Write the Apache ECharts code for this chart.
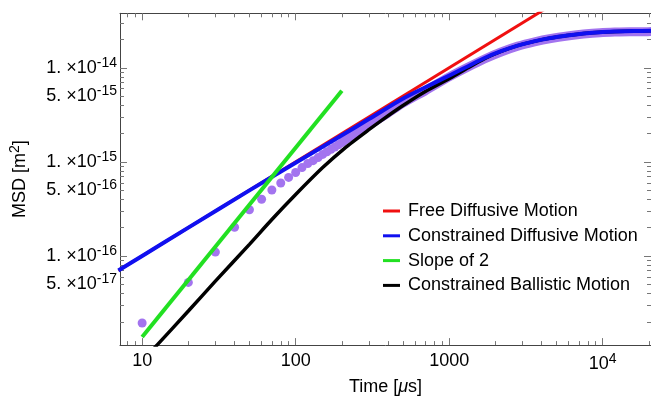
<!DOCTYPE html>
<html><head><meta charset="utf-8">
<script src="https://cdn.jsdelivr.net/npm/echarts@6/dist/echarts.min.js"></script>
<style>html,body{margin:0;padding:0;background:#fff}#c{width:651px;height:401px}</style>
</head><body><div id="c"></div>
<script>
// ---- tick labels ----
const xTickValues = [10, 100, 1000, 10000];
const xTickLabels = ['10', '100', '1000', '10^4'];
const xMinorTicks = [8, 9, 20, 30, 40, 50, 60, 70, 80, 90, 200, 300, 400, 500, 600, 700, 800, 900,
  2000, 3000, 4000, 5000, 6000, 7000, 8000, 9000, 20000];
const yTickValues = [5e-17, 1e-16, 5e-16, 1e-15, 5e-15, 1e-14];
const yTickLabels = ['5. ×10^-17', '1. ×10^-16', '5. ×10^-16', '1. ×10^-15', '5. ×10^-15', '1. ×10^-14'];
const yMajorTicks = [1e-16, 1e-15, 1e-14];
const yMinorTicks = [2e-17, 3e-17, 4e-17, 5e-17, 6e-17, 7e-17, 8e-17, 9e-17,
  2e-16, 3e-16, 4e-16, 5e-16, 6e-16, 7e-16, 8e-16, 9e-16,
  2e-15, 3e-15, 4e-15, 5e-15, 6e-15, 7e-15, 8e-15, 9e-15, 2e-14, 3e-14];

// ---- measured data (purple dots) ----
const dotTime = [10, 20, 30, 40, 50, 60, 70, 80, 90, 100, 110, 120, 130, 140, 150, 160, 170, 180, 190, 200];
const dotMSD = [1.94e-17, 5.24e-17, 1.10e-16, 2.02e-16, 3.10e-16, 4.01e-16, 5.02e-16, 5.96e-16, 6.84e-16, 7.71e-16,
  8.7e-16, 9.6e-16, 1.03e-15, 1.11e-15, 1.20e-15, 1.28e-15, 1.36e-15, 1.44e-15, 1.52e-15, 1.60e-15];
// dense measured band (overlapping dots)
const bandTime = [200, 250, 300, 400, 500, 700, 1000, 1300, 1700, 2200, 2800, 3600, 4600, 5900, 7500, 9600, 12000, 15000, 18000, 21000];
const bandMSD = [1.62e-15, 2.05e-15, 2.45e-15, 3.3e-15, 4.2e-15, 5.7e-15, 8.0e-15, 1.0e-14, 1.24e-14, 1.48e-14,
  1.70e-14, 1.89e-14, 2.05e-14, 2.18e-14, 2.28e-14, 2.36e-14, 2.40e-14, 2.42e-14, 2.41e-14, 2.43e-14];

// ---- model curves ----
const freeTime = [7, 4200];
const freeMSD = [7.0e-17, 4.2e-14];

const conDiffTime = [7, 10, 20, 50, 100, 150, 200, 300, 492, 700, 1035, 1327, 1700, 2177, 2790, 3575, 4580, 5870, 7530, 9640, 12350, 16000, 21000];
const conDiffMSD = [7.0e-17, 1.0e-16, 2.0e-16, 4.98e-16, 9.8e-16, 1.45e-15, 1.92e-15, 2.85e-15, 4.63e-15, 6.2e-15, 8.5e-15,
  1.04e-14, 1.27e-14, 1.50e-14, 1.72e-14, 1.91e-14, 2.07e-14, 2.20e-14, 2.31e-14, 2.39e-14, 2.43e-14, 2.46e-14, 2.47e-14];

const slope2Time = [10, 200];
const slope2MSD = [1.38e-17, 5.7e-15];

const ballTime = [12, 12.5, 20, 30, 50, 70, 100, 150, 211, 300, 365, 492, 700, 1035, 1327, 1700, 2177, 2790, 3575, 4580, 5870, 7530, 9640, 12350, 16000, 21000];
const ballMSD = [1.05e-17, 1.13e-17, 2.6e-17, 5.4e-17, 1.33e-16, 2.44e-16, 4.5e-16, 8.7e-16, 1.42e-15, 2.2e-15, 2.78e-15, 3.9e-15, 5.6e-15, 7.9e-15,
  1.0e-14, 1.25e-14, 1.49e-14, 1.72e-14, 1.91e-14, 2.07e-14, 2.20e-14, 2.31e-14, 2.39e-14, 2.43e-14, 2.46e-14, 2.47e-14];

const names = ['Free Diffusive Motion', 'Constrained Diffusive Motion', 'Slope of 2', 'Constrained Ballistic Motion'];

const L = Math.log10;
const pairs = (ts, ms) => ts.map((t, i) => [L(t), L(ms[i])]);
const FONT = 'Liberation Sans, Arial, sans-serif';
const rich = {
  n: { fontSize: 18, fontFamily: FONT, color: '#000' },
  s: { fontSize: 14, fontFamily: FONT, color: '#000', padding: [0, 0, 10, 0] },
  i: { fontSize: 18, fontFamily: FONT, color: '#000', fontStyle: 'italic' }
};
const toRich = str => {
  const p = str.split('^');
  return p.length > 1 ? '{n|' + p[0] + '}{s|' + p[1] + '}' : '{n|' + p[0] + '}';
};
const labelFor = (vals, labs) => v => {
  const i = vals.findIndex(t => Math.abs(L(t) - v) < 1e-6);
  return i >= 0 ? toRich(labs[i]) : '';
};

const X_MIN = 0.8558, X_MAX = 4.3148, Y_MIN = -16.947, Y_MAX = -13.421;
const AX = '#444', TK = '#777';

function xAx(pos, vals, len, labels, line) {
  return {
    type: 'value', min: X_MIN, max: X_MAX, position: pos,
    axisLine: { show: line, onZero: false, lineStyle: { color: AX, width: 1 } },
    splitLine: { show: false },
    axisTick: { show: true, inside: true, length: len, customValues: vals.map(L), lineStyle: { color: TK } },
    axisLabel: labels ? { customValues: vals.map(L), formatter: labelFor(xTickValues, xTickLabels), margin: 7, rich } : { show: false }
  };
}
function yAx(pos, vals, len, labels, line) {
  return {
    type: 'value', min: Y_MIN, max: Y_MAX, position: pos,
    axisLine: { show: line, onZero: false, lineStyle: { color: AX, width: 1 } },
    splitLine: { show: false },
    axisTick: { show: true, inside: true, length: len, customValues: vals.map(L), lineStyle: { color: TK } },
    axisLabel: labels ? { customValues: yTickValues.map(L), formatter: labelFor(yTickValues, yTickLabels), margin: 3, rich } : { show: false }
  };
}

const xAxes = [
  xAx('bottom', xTickValues, 7, true, true),
  xAx('bottom', xMinorTicks, 4, false, false),
  xAx('top', xTickValues, 7, false, true),
  xAx('top', xMinorTicks, 4, false, false)
];
Object.assign(xAxes[0], { name: '{n|Time [}{i|μ}{n|s]}', nameLocation: 'middle', nameGap: 28, nameTextStyle: { rich } });
const yAxes = [
  yAx('left', yMajorTicks, 7, true, true),
  yAx('left', yMinorTicks, 4, false, false),
  yAx('right', yMajorTicks, 7, false, true),
  yAx('right', yMinorTicks, 4, false, false)
];
Object.assign(yAxes[0], { name: '{n|MSD [m}{s|2}{n|]}', nameLocation: 'middle', nameGap: 88, nameRotate: 90, nameTextStyle: { rich } });

const chart = echarts.init(document.getElementById('c'), null, { renderer: 'canvas' });
chart.setOption({
  animation: false,
  backgroundColor: '#fff',
  grid: { left: 116, top: 13.3, right: 0, bottom: 52.7, containLabel: false },
  xAxis: xAxes,
  yAxis: yAxes,
  legend: {
    data: names, orient: 'vertical', left: 383, top: 202, padding: 0, icon: 'rect', itemWidth: 17, itemHeight: 3, itemGap: 6.8,
    textStyle: { fontSize: 18, fontFamily: FONT, color: '#000', lineHeight: 18, padding: [0, 0, 0, 3] }
  },
  series: [
    { type: 'line', name: 'band', data: pairs(bandTime, bandMSD), showSymbol: false, smooth: 0.2, lineStyle: { color: '#a374ef', width: 9 }, z: 2, silent: true },
    { type: 'scatter', name: 'dots', data: pairs(dotTime, dotMSD), symbolSize: 9, itemStyle: { color: '#a374ef', opacity: 1 }, z: 2 },
    { type: 'line', name: names[0], data: pairs(freeTime, freeMSD), showSymbol: false, color: '#f01010', lineStyle: { color: '#f01010', width: 3 }, z: 3 },
    { type: 'line', name: names[3], data: pairs(ballTime, ballMSD), showSymbol: false, smooth: 0.2, color: '#000', lineStyle: { color: '#000', width: 3.5 }, z: 4 },
    { type: 'line', name: names[1], data: pairs(conDiffTime, conDiffMSD), showSymbol: false, smooth: 0.3, color: '#1010f0', lineStyle: { color: '#1010f0', width: 4 }, z: 5 },
    { type: 'line', name: names[2], data: pairs(slope2Time, slope2MSD), showSymbol: false, color: '#22e022', lineStyle: { color: '#22e022', width: 4 }, z: 6 }
  ]
});
</script></body></html>
